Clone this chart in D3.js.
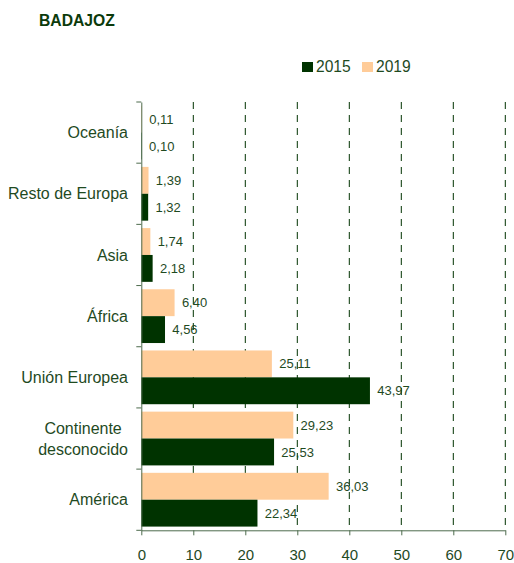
<!DOCTYPE html>
<html><head><meta charset="utf-8">
<script src="https://cdn.jsdelivr.net/npm/d3@7"></script>
<style>body{margin:0;background:#fff;}svg{display:block;font-family:"Liberation Sans",Arial,sans-serif;}</style>
</head><body>
<svg id="c" width="514" height="563"></svg>
<script>
const categories = ["Oceanía","Resto de Europa","Asia","África","Unión Europea","Continente desconocido","América"];
const values2019 = [0.11,1.39,1.74,6.40,25.11,29.23,36.03];
const values2015 = [0.10,1.32,2.18,4.56,43.97,25.53,22.34];
const seriesNames = ["2015","2019"];
const xTicks = [0,10,20,30,40,50,60,70];

const dark = "#003300", peach = "#FFCC99", txt = "#1f4a1f", axisCol = "#4d6b4d";
const svg = d3.select("#c");
const L = 141.3, R = 505.3, T = 102, B = 530.3;
const x = d3.scaleLinear().domain([0,70]).range([L,R]);
const y = d3.scaleBand().domain(categories).range([T,B]).paddingInner(0).paddingOuter(0);
const inner = d3.scaleBand().domain(["2019","2015"]).range([0,y.bandwidth()]).paddingOuter(0.138).paddingInner(0);
const fmt = v => v.toFixed(2).replace(".", ",");

svg.append("text").attr("x",39).attr("y",26).attr("font-size",15.7).attr("font-weight","bold").attr("fill","#0b3a0b").text("BADAJOZ");

// gridlines
svg.append("g").selectAll("line").data(xTicks.filter(d=>d>0)).join("line")
  .attr("x1",d=>x(d)).attr("x2",d=>x(d)).attr("y1",T).attr("y2",B)
  .attr("stroke",dark).attr("stroke-width",1).attr("stroke-dasharray","7,6");

const rows = categories.map((c,i)=>({c, v2019:values2019[i], v2015:values2015[i]}));
const g = svg.append("g");
rows.forEach(r=>{
  [["2019",r.v2019,peach],["2015",r.v2015,dark]].forEach(([s,v,col])=>{
    const yy = y(r.c)+inner(s);
    g.append("rect").attr("x",x(0)).attr("y",yy).attr("width",x(v)-x(0)).attr("height",inner.bandwidth()).attr("fill",col);
    g.append("text").attr("x",x(v)+7.3).attr("y",yy+inner.bandwidth()/2).attr("dy","0.35em")
      .attr("font-size",13).attr("fill",txt).text(fmt(v));
  });
});

// axes
const xAxis = d3.axisBottom(x).tickValues(xTicks).tickSize(5).tickSizeOuter(0).tickPadding(14);
const ax = svg.append("g").attr("transform",`translate(0,${B})`).call(xAxis);
ax.select(".domain").attr("stroke",axisCol);
ax.selectAll(".tick line").attr("stroke",axisCol);
ax.selectAll(".tick text").attr("font-size",15).attr("fill",txt).attr("font-family","Liberation Sans, Arial, sans-serif");

const yAxis = d3.axisLeft(y).tickValues([]).tickSizeOuter(0);
const ay = svg.append("g").attr("transform",`translate(${L},0)`).call(yAxis);
ay.select(".domain").attr("stroke",axisCol);
// band boundary ticks
ay.selectAll("line.bt").data(d3.range(categories.length+1)).join("line").attr("class","bt")
  .attr("x1",-5).attr("x2",0).attr("y1",i=>T+i*y.step()).attr("y2",i=>T+i*y.step()).attr("stroke",axisCol);
// category labels
const labG = svg.append("g");
const lines = {"Continente desconocido":["Continente","desconocido"]};
categories.forEach(c=>{
  const ls = lines[c] || [c];
  const cy = y(c)+y.bandwidth()/2;
  const t = labG.append("text").attr("font-size",16).attr("fill",txt).attr("text-anchor","middle");
  ls.forEach((l,i)=>t.append("tspan").attr("y",cy+(i-(ls.length-1)/2)*21).attr("dy","0.35em").text(l));
  let maxW = 0; t.selectAll("tspan").each(function(){maxW=Math.max(maxW,this.getComputedTextLength());});
  t.selectAll("tspan").attr("x",128-maxW/2);
});

// legend
const leg = svg.append("g");
[["2015",dark,302],["2019",peach,362]].forEach(([n,col,lx])=>{
  leg.append("rect").attr("x",lx).attr("y",62).attr("width",11).attr("height",10).attr("fill",col);
  leg.append("text").attr("x",lx+14).attr("y",66.5).attr("dy","0.35em").attr("font-size",15.6).attr("fill",txt).text(n);
});
</script>
</body></html>
